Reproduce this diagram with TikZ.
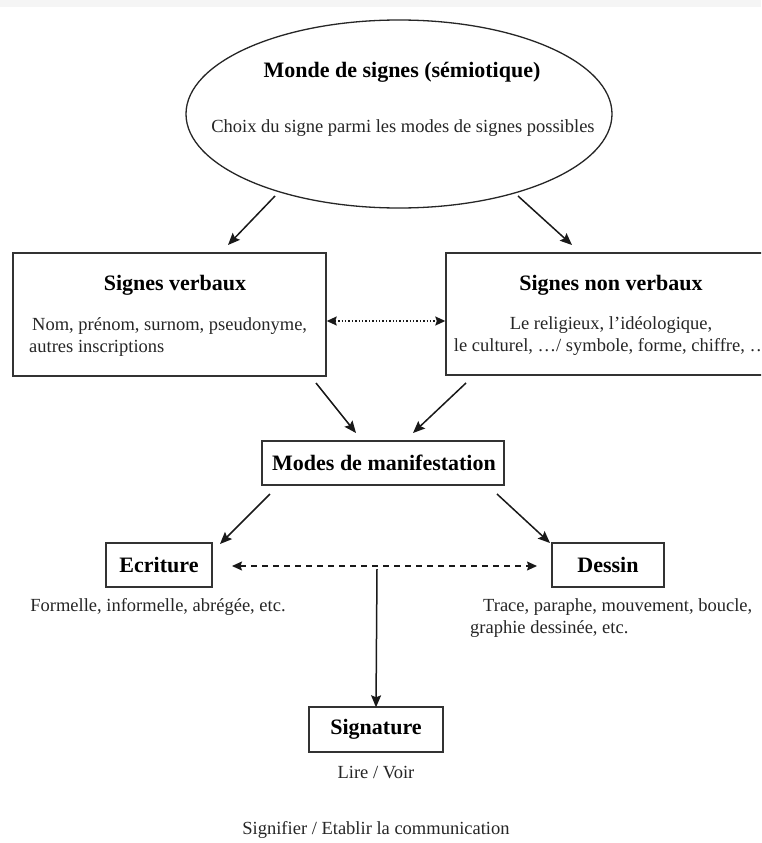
\documentclass[tikz,border=0pt]{standalone}
\usepackage{fontspec}
\setmainfont{Liberation Serif}
\usetikzlibrary{arrows.meta,shapes.geometric}
\begin{document}
\begin{tikzpicture}[x=1pt,y=-1pt,
  box/.style={draw=black!80, line width=1.4pt, inner sep=0pt},
  ttl/.style={font=\fontsize{22}{26}\selectfont\bfseries, text=black, inner sep=0pt},
  txt/.style={font=\fontsize{18.5}{22}\selectfont, text=black!85, inner sep=0pt},
  arr/.style={line width=1.5pt, draw=black!90, -{Stealth[length=12pt,width=10pt,inset=2pt]}},
  dblarr/.style={line width=1.4pt, draw=black!90, {Stealth[length=10pt,width=9pt,inset=1.5pt]}-{Stealth[length=10pt,width=9pt,inset=1.5pt]}}
]
\clip (0,0) rectangle (761,843);
\fill[white] (0,0) rectangle (761,843);
\fill[black!4] (0,0) rectangle (761,7);

% ellipse
\node[ellipse, draw=black!85, line width=1.3pt, minimum width=426pt, minimum height=188pt, inner sep=0pt] (e) at (399,114) {};
\node[ttl] (et) at (402,72) {Monde de signes (sémiotique)};
\node[txt] (ec) at (403,128) {Choix du signe parmi les modes de signes possibles};

% boxes
\node[box, minimum width=313pt, minimum height=123pt] (vb) at (169.5,314.5) {};
\node[ttl] (vbt) at (175,285) {Signes verbaux};
\node[txt, anchor=west, align=left] (vbd) at (29,337) {\hspace*{3pt}Nom, prénom, surnom, pseudonyme,\\autres inscriptions};

\node[box, minimum width=330pt, minimum height=122pt] (nvb) at (611,314) {};
\node[ttl] (nvbt) at (611,285) {Signes non verbaux};
\node[txt, align=center] (nvbd) at (611,336) {Le religieux, l’idéologique,\\le culturel, …/ symbole, forme, chiffre, …};

\node[box, minimum width=242pt, minimum height=44pt] (mm) at (383,463) {};
\node[ttl] (mmt) at (384,463) {Modes de manifestation};

\node[box, minimum width=106pt, minimum height=44pt] (ecr) at (159,565) {};
\node[ttl] (ecrt) at (159,565) {Ecriture};
\node[txt] (ecrd) at (158,607) {Formelle, informelle, abrégée, etc.};

\node[box, minimum width=112pt, minimum height=44pt] (des) at (608,565) {};
\node[ttl] (dest) at (608,565) {Dessin};
\node[txt, anchor=west, align=left] (desd) at (470,618) {\hspace*{13pt}Trace, paraphe, mouvement, boucle,\\graphie dessinée, etc.};

\node[box, minimum width=134pt, minimum height=45pt] (sig) at (376,729.5) {};
\node[ttl] (sigt) at (376,729.5) {Signature};
\node[txt] (lire) at (376,773) {Lire / Voir};
\node[txt] (signif) at (376,830) {Signifier / Etablir la communication};

% connector end points
\coordinate (a1s) at (275,196);
\coordinate (a1e) at (228,245);
\coordinate (a2s) at (518,196);
\coordinate (a2e) at (572,245);
\coordinate (a3s) at (316,383);
\coordinate (a3e) at (356,433);
\coordinate (a4s) at (466,383);
\coordinate (a4e) at (413,433);
\coordinate (a5s) at (270,494);
\coordinate (a5e) at (220,544);
\coordinate (a6s) at (497,494);
\coordinate (a6e) at (550,543);
\coordinate (dl) at (232,566);
\coordinate (dr) at (537,566);
\coordinate (vs) at (377,569);

\draw[arr] (a1s) -- (a1e);
\draw[arr] (a2s) -- (a2e);
\draw[arr] (a3s) -- (a3e);
\draw[arr] (a4s) -- (a4e);
\draw[arr] (a5s) -- (a5e);
\draw[arr] (a6s) -- (a6e);

\draw[dblarr, dotted, line width=1.5pt] (vb.east |- 0,321) -- (nvb.west |- 0,321);
\draw[dblarr, dash pattern=on 6pt off 5pt] (dl) -- (dr);
\draw[arr] (vs) -- ([yshift=-1pt]sig.north);
\end{tikzpicture}
\end{document}
